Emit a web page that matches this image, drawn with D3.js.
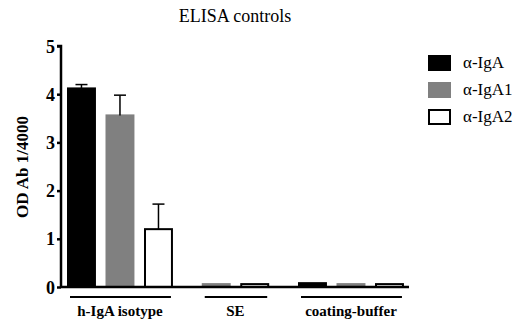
<!DOCTYPE html>
<html>
<head>
<meta charset="utf-8">
<script src="https://cdn.jsdelivr.net/npm/d3@7"></script>
<style>
  body { margin: 0; background: #fff; }
  svg text { font-family: "Liberation Serif", "Times New Roman", serif !important; }
</style>
</head>
<body>
<div id="chart"></div>
<script>
// data
const groups = ["h-IgA isotype", "SE", "coating-buffer"];
const series = ["\u03b1-IgA", "\u03b1-IgA1", "\u03b1-IgA2"];
const colors = ["#000000", "#808080", "#ffffff"];
const means = [
  [4.12, 0.06, 0.08],   // α-IgA
  [3.56, 0.06, 0.06],   // α-IgA1
  [1.20, 0.06, 0.06]    // α-IgA2
];
const errors = [
  [0.08, 0, 0],
  [0.42, 0, 0],
  [0.52, 0, 0]
];
// SE has no α-IgA bar
const presence = [
  [true, false, true],
  [true, true, true],
  [true, true, true]
];
const yTicks = [0, 1, 2, 3, 4, 5];

const width = 515, height = 322;
const svg = d3.select("#chart").append("svg")
  .attr("width", width).attr("height", height);

// slot layout: bars inside a group sit one slot apart, groups separated by a gap
const groupGap = 0.8, barW = 0.7;
const bars = [];
const groupSpan = [];
let cursor = 0;
groups.forEach((g, gi) => {
  const start = cursor;
  series.forEach((s, si) => {
    if (!presence[si][gi]) return;
    bars.push({ g: gi, s: si, slot: cursor, v: means[si][gi], e: errors[si][gi] });
    cursor += 1;
  });
  groupSpan.push([start, cursor - 1 + barW]);
  cursor += groupGap - (1 - barW);
});

const x = d3.scaleLinear().domain([0, 1]).range([68, 106.5]);
const y = d3.scaleLinear().domain([0, 5]).range([287, 46]);
const x0 = 61, xEnd = 409;

// bars
svg.append("g").selectAll("rect").data(bars).enter().append("rect")
  .attr("x", d => x(d.slot))
  .attr("width", x(barW) - x(0))
  .attr("y", d => y(d.v))
  .attr("height", d => y(0) - y(d.v))
  .attr("fill", d => colors[d.s])
  .attr("stroke", d => d.s === 1 ? "#808080" : "#000")
  .attr("stroke-width", 2);

// error bars (upper only)
const eb = svg.append("g").attr("stroke", "#000").attr("stroke-width", 1.5)
  .selectAll("g").data(bars.filter(d => d.e > 0)).enter().append("g");
eb.append("line")
  .attr("x1", d => x(d.slot + barW / 2)).attr("x2", d => x(d.slot + barW / 2))
  .attr("y1", d => y(d.v)).attr("y2", d => y(d.v + d.e));
eb.append("line")
  .attr("x1", d => x(d.slot + barW / 2) - 6).attr("x2", d => x(d.slot + barW / 2) + 6)
  .attr("y1", d => y(d.v + d.e)).attr("y2", d => y(d.v + d.e));

// y axis
const yAxis = svg.append("g").attr("transform", `translate(${x0},0)`)
  .call(d3.axisLeft(y).tickValues(yTicks).tickSize(4).tickFormat(d3.format("d")));
yAxis.select(".domain").attr("stroke-width", 2.5).attr("d", `M-4,${y(5)}H0V${y(0)}`);
yAxis.selectAll(".tick line").attr("stroke-width", 2.5);
yAxis.selectAll(".tick text")
  .attr("x", -6).attr("dy", "0.34em")
  .attr("font-size", 18).attr("font-weight", "bold").attr("fill", "#000");

// x baseline
svg.append("line")
  .attr("x1", x0).attr("x2", xEnd).attr("y1", y(0)).attr("y2", y(0))
  .attr("stroke", "#000").attr("stroke-width", 2.5);

// group lines and labels
const gl = svg.append("g").selectAll("g").data(groups).enter().append("g");
gl.append("line")
  .attr("x1", (d, i) => x(groupSpan[i][0]) + 2)
  .attr("x2", (d, i) => x(groupSpan[i][1]) - 1)
  .attr("y1", 297).attr("y2", 297)
  .attr("stroke", "#000").attr("stroke-width", 1.8);
gl.append("text")
  .attr("x", (d, i) => (x(groupSpan[i][0]) + x(groupSpan[i][1])) / 2)
  .attr("y", 316)
  .attr("text-anchor", "middle")
  .attr("font-size", 15).attr("font-weight", "bold")
  .text(d => d);

// y title
svg.append("text")
  .attr("transform", `translate(28,167) rotate(-90)`)
  .attr("text-anchor", "middle")
  .attr("font-size", 17).attr("font-weight", "bold")
  .text("OD Ab 1/4000");

// title
svg.append("text")
  .attr("x", 235).attr("y", 22)
  .attr("text-anchor", "middle")
  .attr("font-size", 18)
  .text("ELISA controls");

// legend
const lg = svg.append("g").selectAll("g").data(series).enter().append("g")
  .attr("transform", (d, i) => `translate(428,${55 + i * 27})`);
lg.append("rect")
  .attr("x", 1).attr("y", 1).attr("width", 21).attr("height", 14)
  .attr("fill", (d, i) => colors[i])
  .attr("stroke", (d, i) => i === 1 ? "#808080" : "#000")
  .attr("stroke-width", 2);
lg.append("text")
  .attr("x", 35).attr("y", 13)
  .attr("font-size", 17)
  .text(d => d);
</script>
</body>
</html>
